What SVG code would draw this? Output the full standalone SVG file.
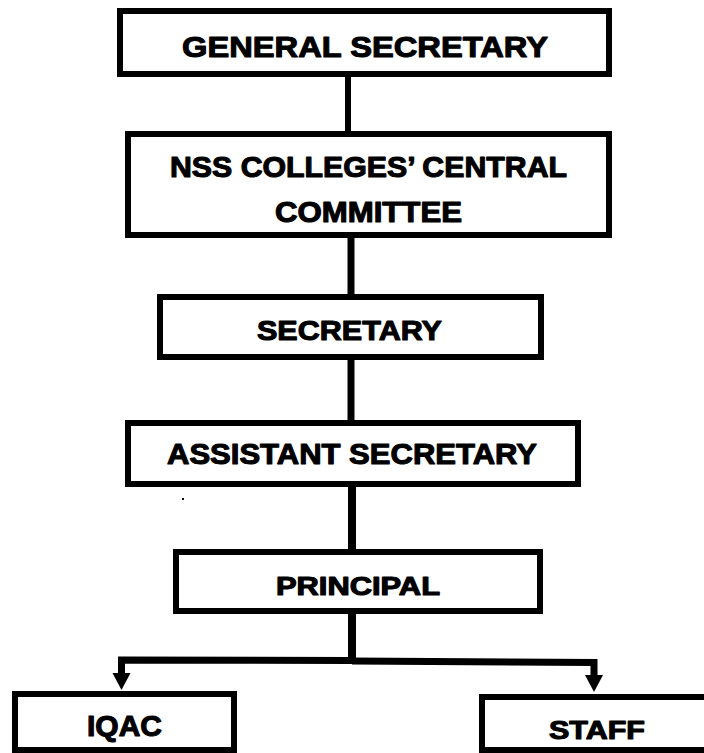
<svg xmlns="http://www.w3.org/2000/svg" width="704" height="753" viewBox="0 0 704 753">
<style>
.box{fill:#fff;stroke:#000;stroke-width:6}
.lbl{font-family:"Liberation Sans",Arial,sans-serif;font-weight:bold;fill:#000;stroke:#000;stroke-width:1.1;stroke-linejoin:round}
.con{fill:none;stroke:#000;stroke-width:7;stroke-linejoin:miter}
</style>
<defs>
<marker id="ah" markerUnits="userSpaceOnUse" viewBox="0 -10 20 20" refX="0" refY="0" markerWidth="20" markerHeight="20" orient="auto">
<path d="M0,-9 L17,0 L0,9 z" fill="#000"/>
</marker>
</defs>
<rect width="704" height="753" fill="#fff"/>
<g id="connectors">
<path class="con" d="M348 77 V131" style="stroke-width:6"/>
<path class="con" d="M351 238 V294"/>
<path class="con" d="M351 360 V420"/>
<path class="con" d="M352 487 V549" style="stroke-width:8"/>
<path class="con" d="M352 614 V662" style="stroke-width:8"/>
<path class="con" d="M352 660.5 L121.5 660 V673" marker-end="url(#ah)"/>
<path class="con" d="M352 661 L594 662.5 V675" marker-end="url(#ah)"/>
</g>
<g id="general-secretary">
<rect class="box" x="120" y="11" width="489" height="63"/>
<text class="lbl" x="182" y="57" font-size="30" textLength="366" lengthAdjust="spacingAndGlyphs">GENERAL SECRETARY</text>
</g>
<g id="central-committee">
<rect class="box" x="128" y="134" width="481" height="101"/>
<text class="lbl" x="170" y="177" font-size="29" textLength="397" lengthAdjust="spacingAndGlyphs">NSS COLLEGES’ CENTRAL</text>
<text class="lbl" x="275" y="222" font-size="29" textLength="187" lengthAdjust="spacingAndGlyphs">COMMITTEE</text>
</g>
<g id="secretary">
<rect class="box" x="160" y="297" width="381" height="60"/>
<text class="lbl" x="257" y="340" font-size="28" textLength="185" lengthAdjust="spacingAndGlyphs">SECRETARY</text>
</g>
<g id="assistant-secretary">
<rect class="box" x="128" y="423" width="450" height="61"/>
<text class="lbl" x="167" y="464" font-size="29" textLength="370" lengthAdjust="spacingAndGlyphs">ASSISTANT SECRETARY</text>
</g>
<rect x="182" y="498" width="2" height="2" fill="#000"/>
<g id="principal">
<rect class="box" x="176" y="552" width="364" height="59"/>
<text class="lbl" x="276" y="595" font-size="25" textLength="164" lengthAdjust="spacingAndGlyphs">PRINCIPAL</text>
</g>
<g id="iqac">
<rect class="box" x="15" y="694" width="219" height="56"/>
<text class="lbl" x="87" y="736" font-size="29" textLength="75" lengthAdjust="spacingAndGlyphs">IQAC</text>
</g>
<g id="staff">
<rect class="box" x="482" y="697" width="240" height="53"/>
<text class="lbl" x="549" y="739" font-size="26" textLength="96" lengthAdjust="spacingAndGlyphs">STAFF</text>
</g>
</svg>
